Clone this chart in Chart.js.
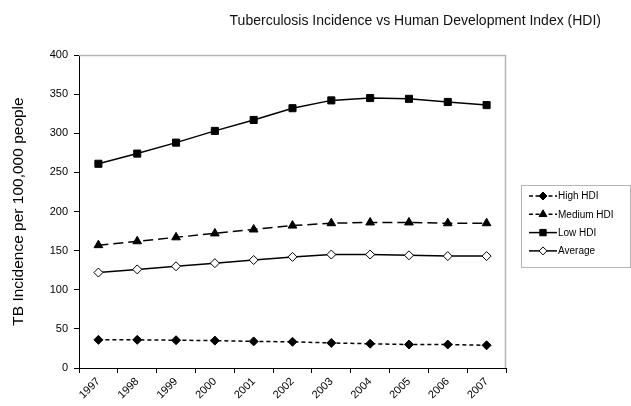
<!DOCTYPE html>
<html>
<head>
<meta charset="utf-8">
<script src="https://cdn.jsdelivr.net/npm/chart.js@4/dist/chart.umd.min.js"></script>
<style>
  html, body { margin: 0; padding: 0; background: #fff; }
  #wrap { width: 631px; height: 406px; position: relative; }
</style>
</head>
<body>
<div id="wrap"><canvas id="myChart"></canvas></div>
<script>
const years = ['1997', '1998', '1999', '2000', '2001', '2002', '2003', '2004', '2005', '2006', '2007'];
const highHDI = [36, 36, 35.5, 35, 34, 33.5, 32, 31, 30, 30, 29];
const mediumHDI = [157, 162, 167, 172, 177, 182, 185, 186, 186, 185, 185];
const lowHDI = [261, 274, 288, 303, 317, 332, 342, 345, 344, 340, 336];
const average = [122, 126, 130, 134, 138, 142, 145, 145, 144, 143, 143];
const yTicks = [0, 50, 100, 150, 200, 250, 300, 350, 400];

const FONT = '"Liberation Sans", Arial, sans-serif';

const series = [
    { label: 'High HDI', data: highHDI, dash: [4, 3], style: 'rectRot', radius: 4.5, fill: '#000' },
    { label: 'Medium HDI', data: mediumHDI, dash: [10, 5], style: 'triangle', radius: 5, fill: '#000' },
    { label: 'Low HDI', data: lowHDI, dash: [], style: 'rect', radius: 5, fill: '#000' },
    { label: 'Average', data: average, dash: [], style: 'rectRot', radius: 4.5, fill: '#fff' }
];

// title, plot border and legend drawn by hand
const decor = {
    id: 'decor',
    afterDraw(chart) {
        const c = chart.ctx;
        const a = chart.chartArea;
        c.save();
        // title
        c.fillStyle = '#111';
        c.font = '14px ' + FONT;
        c.textAlign = 'right';
        c.textBaseline = 'middle';
        c.fillText('Tuberculosis Incidence vs Human Development Index (HDI)', 601, 21);

        // grey frame on top and right
        c.strokeStyle = '#b4b4b4';
        c.lineWidth = 1.5;
        c.beginPath();
        c.moveTo(a.left, a.top + 0.5);
        c.lineTo(a.right - 0.5, a.top + 0.5);
        c.lineTo(a.right - 0.5, a.bottom);
        c.stroke();

        // legend
        const lx = a.right + 15, ly = 185, lw = 109, lh = 82;
        c.strokeStyle = '#b4b4b4';
        c.lineWidth = 1;
        c.strokeRect(lx + 0.5, ly + 0.5, lw, lh);
        c.font = '10px ' + FONT;
        c.textAlign = 'left';
        series.forEach((s, i) => {
            const y = ly + 11 + i * 18.3;
            c.strokeStyle = '#000';
            c.lineWidth = 1.5;
            c.setLineDash(s.dash.length ? [4, 2.5] : []);
            c.beginPath();
            c.moveTo(lx + 8, y);
            c.lineTo(lx + 36, y);
            c.stroke();
            c.setLineDash([]);
            c.fillStyle = s.fill;
            c.lineWidth = 1;
            Chart.helpers.drawPoint(c, { pointStyle: s.style, rotation: 0, radius: s.radius - 0.5, borderWidth: 1 }, lx + 22, y);
            c.fillStyle = '#000';
            c.fillText(s.label, lx + 37, y + 0.5);
        });
        c.restore();
    }
};

const ctx = document.getElementById('myChart').getContext('2d');

const myChart = new Chart(ctx, {
    type: 'line',
    data: {
        labels: years,
        datasets: series.map(s => ({
            label: s.label,
            data: s.data,
            borderColor: '#000',
            borderWidth: 1.5,
            borderDash: s.dash,
            pointStyle: s.style,
            pointRadius: s.radius,
            pointBackgroundColor: s.fill,
            pointBorderColor: '#000',
            pointBorderWidth: 1,
            tension: 0,
            fill: false
        }))
    },
    options: {
        responsive: true,
        maintainAspectRatio: false,
        animation: false,
        layout: { padding: { top: 55, right: 125, left: 0, bottom: 0 } },
        plugins: {
            legend: { display: false },
            title: { display: false },
            tooltip: { enabled: false }
        },
        scales: {
            x: {
                offset: true,
                grid: { offset: true, drawOnChartArea: false, drawTicks: true, tickLength: 5, color: '#000' },
                border: { color: '#000', width: 1 },
                ticks: {
                    color: '#000',
                    font: { family: FONT, size: 11 },
                    maxRotation: 45,
                    minRotation: 45,
                    padding: 2
                },
                afterFit(scale) { scale.height = 38; }
            },
            y: {
                min: 0,
                max: 400,
                afterBuildTicks(scale) { scale.ticks = yTicks.map(v => ({ value: v })); },
                grid: { drawOnChartArea: false, drawTicks: true, tickLength: 5, color: '#000' },
                border: { color: '#000', width: 1 },
                ticks: {
                    color: '#000',
                    font: { family: FONT, size: 11 },
                    padding: 6
                },
                title: {
                    display: true,
                    text: 'TB Incidence per 100,000 people',
                    color: '#000',
                    font: { family: FONT, size: 15.5 },
                    padding: { top: 9, bottom: 0 }
                },
                afterFit(scale) { scale.width = 79; }
            }
        }
    },
    plugins: [decor]
});
</script>
</body>
</html>
